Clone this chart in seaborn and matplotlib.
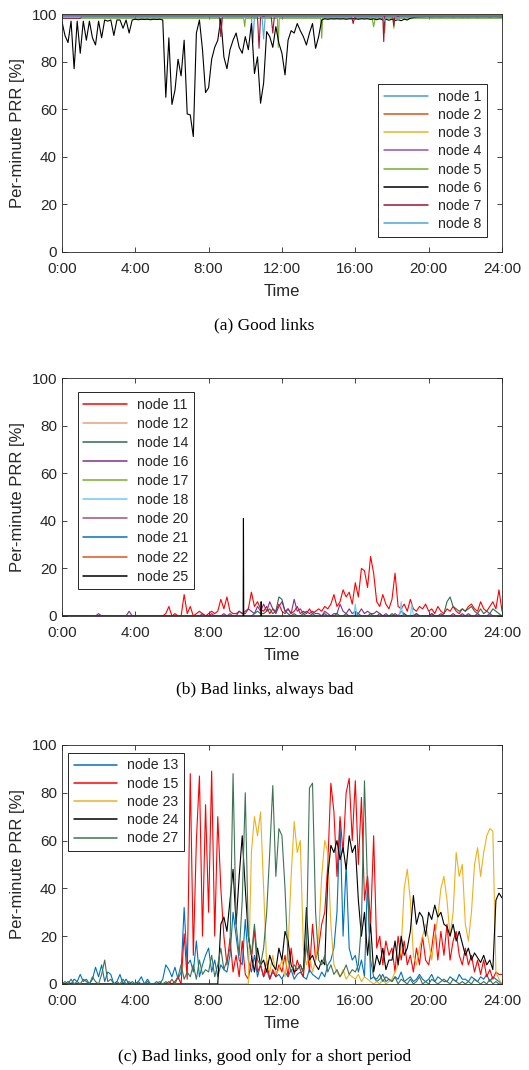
import numpy as np
import pandas as pd
import matplotlib
matplotlib.use("Agg")
import matplotlib.pyplot as plt
from matplotlib.lines import Line2D
import seaborn as sns

# time grid in minutes (10-minute samples)
t10 = list(range(0, 1441, 10))

# ---------------- (a) Good links ----------------
n6 = [97, 91, 88, 97, 77, 97,
      83.5, 97, 89, 97, 90, 87,
      97, 90, 97.5, 97, 97.5, 91,
      97.5, 97.5, 94, 97.5, 92, 97.5,
      97.8, 97.6, 97.8, 97.7, 97.8, 97.6,
      97.8, 97.7, 97.8, 97.5, 65, 90,
      62, 68, 81, 74, 89, 58,
      57.6, 48.5, 92, 97.5, 85, 67,
      69, 81, 86, 89, 98, 82,
      77, 85, 89, 92, 86, 83.5,
      90.5, 85, 96, 75, 82, 62.5,
      71, 92.6, 90.5, 86, 94.7, 87.7,
      83.5, 74.4, 89, 93, 92, 96,
      93, 90.5, 87, 92, 96, 85.6,
      90.5, 97.5, 98, 97.8, 98, 97.9,
      98, 97.9, 98, 97.8, 98, 98,
      98, 97.8, 98, 97.9, 98, 97.7,
      98, 97.6, 98, 97.5, 97.8, 97.4,
      97.8, 97.3, 97.6, 97.2, 97.8, 97.5,
      98.2, 98.5, 98.7, 98.8, 98.8, 98.9,
      98.9, 98.8, 98.9, 98.9, 98.8, 98.9,
      98.9, 98.9, 98.8, 98.9, 98.9, 98.8,
      98.9, 98.8, 98.9, 98.9, 98.8, 98.9,
      98.9, 98.9, 98.8, 98.9, 98.9, 98.8,
      98.9]

t_n1 = [0, 620, 625, 630, 1440]
n1 = [99.1, 99.1, 88, 99.1, 99.1]
t_n2 = [0, 1440]
n2 = [99.6, 99.6]
t_n3 = [0, 1440]
n3 = [99.9, 99.9]
t_n4 = [0, 1440]
n4 = [99.3, 99.3]
t_n5 = [0, 595, 598, 601, 705, 708, 711, 847, 850, 853,
        1015, 1020, 1025, 1053, 1056, 1059, 1083, 1086, 1089, 1440]
n5 = [98.2, 98.2, 94.7, 98.2, 98.2, 86, 98.2, 98.2, 89.8, 98.2,
      98.2, 94.7, 98.2, 98.2, 92, 98.2, 98.2, 94, 98.2, 98.2]
t_n7 = [0, 60, 65, 515, 520, 525, 640, 645, 650, 685, 690, 695,
        948, 953, 958, 1050, 1053, 1056, 1083, 1086, 1089, 1440]
n7 = [98.2, 98.2, 98.8, 98.8, 90.5, 98.8, 98.8, 85.6, 98.8, 98.8, 92, 98.8,
      98.8, 96, 98.8, 98.8, 88.4, 98.8, 98.8, 95, 98.8, 98.8]
t_n8 = [0, 655, 660, 665, 1050, 1055, 1060, 1095, 1100, 1105, 1440]
n8 = [98.8, 98.8, 89.5, 98.8, 98.8, 97, 98.8, 98.8, 97.5, 98.8, 98.8]

# ---------------- (b) Bad links, always bad ----------------
n11 = [0, 0, 0, 0, 0, 0,
       0, 0, 0, 0, 0, 0,
       0, 0, 0, 0, 0, 0,
       0, 0, 0, 0, 0, 0,
       0, 0, 0, 0, 0, 0,
       0, 0, 0, 0, 1, 4,
       0, 1, 0, 0, 9, 1,
       4, 0, 1, 2, 1, 0,
       1, 2, 1, 2, 7, 3,
       8, 2, 1, 1, 2, 1,
       2, 3, 10, 4, 6, 3,
       2, 4, 1, 3, 2, 5,
       2, 1, 3, 1, 2, 4,
       1, 2, 1, 3, 1, 2,
       3, 2, 4, 3, 5, 9,
       4, 6, 11, 8, 10, 5,
       14, 8, 20, 19, 12, 25,
       18, 6, 4, 9, 5, 3,
       7, 18, 4, 3, 5, 2,
       7, 3, 2, 4, 3, 5,
       2, 3, 1, 4, 2, 1,
       3, 2, 4, 2, 1, 3,
       2, 4, 5, 3, 2, 6,
       3, 2, 4, 6, 3, 11,
       2]
n16 = [0, 0, 0, 0, 0, 0,
       0, 0, 0, 0, 0, 0,
       1, 0, 0, 0, 0, 0,
       0, 0, 0, 0, 2, 0,
       0, 0, 0, 0, 0, 0,
       0, 0, 0, 0, 0, 0,
       0, 0, 0, 0, 0, 0,
       0, 0, 0, 0, 1, 0,
       0, 1, 0, 0, 0, 1,
       0, 1, 0, 0, 2, 1,
       1, 3, 2, 1, 4, 2,
       5, 2, 6, 3, 1, 4,
       6, 2, 3, 1, 7, 2,
       3, 1, 2, 1, 2, 1,
       1, 0, 2, 1, 0, 1,
       1, 5, 2, 1, 3, 1,
       2, 1, 3, 1, 2, 1,
       1, 2, 1, 0, 1, 0,
       0, 1, 0, 2, 1, 0,
       0, 0, 1, 0, 0, 0,
       0, 1, 0, 0, 1, 0,
       0, 0, 1, 0, 0, 1,
       0, 1, 0, 0, 1, 0,
       0, 0, 1, 0, 0, 0,
       0]
n14 = [0, 0, 0, 0, 0, 0,
       0, 0, 0, 0, 0, 0,
       0, 0, 0, 0, 0, 0,
       0, 0, 0, 0, 0, 0,
       0, 0, 0, 0, 0, 0,
       0, 0, 0, 0, 0, 0,
       0, 0, 0, 0, 0, 0,
       0, 0, 0, 0, 0, 0,
       0, 0, 0, 0, 0, 0,
       0, 0, 0, 0, 0, 0,
       0, 0, 0, 1, 2, 1,
       1, 2, 3, 1, 2, 8,
       7, 2, 1, 0, 1, 0,
       0, 1, 0, 0, 1, 0,
       0, 0, 1, 0, 0, 0,
       1, 0, 0, 1, 0, 0,
       0, 1, 0, 0, 0, 1,
       0, 0, 1, 0, 0, 0,
       1, 0, 0, 0, 1, 0,
       0, 0, 1, 0, 0, 0,
       0, 1, 0, 0, 0, 1,
       6, 8, 4, 3, 2, 3,
       2, 3, 4, 2, 1, 3,
       1, 2, 1, 3, 2, 1,
       0]
t_n18 = [0, 955, 960, 965, 1105, 1110, 1115, 1140, 1145, 1150, 1440]
n18 = [0, 0, 5, 0, 0, 6, 0, 0, 5, 0, 0]
t_n25 = [0, 593, 594, 595, 651, 652, 653, 1440]
n25 = [0, 0, 41, 0, 0, 6, 0, 0]
t_flat = [0, 1440]
n_flat = [0.2, 0.2]

# ---------------- (c) Bad links, good only for a short period ----------------
n13 = [0, 0, 1, 0, 2, 1,
       4, 1, 2, 0, 2, 7,
       3, 8, 1, 5, 4, 0,
       1, 4, 0, 2, 0, 1,
       0, 1, 3, 0, 2, 0,
       0, 1, 0, 2, 8, 6,
       3, 7, 2, 5, 32, 8,
       10, 5, 18, 3, 8, 12,
       15, 5, 10, 3, 8, 6,
       5, 12, 30, 20, 10, 8,
       27, 10, 5, 12, 3, 8,
       3, 6, 2, 5, 3, 4,
       2, 5, 3, 6, 2, 4,
       5, 3, 2, 6, 4, 3,
       2, 5, 3, 8, 10, 15,
       30, 68, 20, 50, 15, 10,
       12, 5, 10, 3, 45, 2,
       3, 1, 2, 4, 1, 2,
       1, 3, 2, 5, 1, 2,
       3, 1, 2, 4, 2, 1,
       2, 4, 1, 3, 2, 1,
       1, 3, 2, 1, 4, 2,
       2, 1, 3, 2, 1, 3,
       2, 4, 1, 3, 2, 1,
       0]
n15 = [0, 0, 0, 0, 0, 0,
       0, 0, 0, 0, 0, 0,
       0, 0, 0, 0, 0, 0,
       0, 0, 0, 0, 0, 0,
       0, 0, 0, 0, 0, 0,
       0, 0, 0, 0, 0, 1,
       0, 1, 3, 0, 21, 2,
       88, 12, 60, 87, 20, 75,
       30, 89, 20, 70, 40, 20,
       8, 19, 5, 12, 3, 18,
       4, 2, 10, 23, 5, 8,
       3, 10, 2, 6, 3, 8,
       5, 12, 3, 15, 4, 10,
       6, 3, 18, 5, 25, 10,
       15, 25, 30, 50, 84, 72,
       45, 70, 55, 80, 86, 60,
       85, 50, 78, 35, 45, 25,
       62, 15, 20, 8, 18, 12,
       15, 5, 20, 10, 18, 8,
       12, 5, 15, 8, 20, 10,
       8, 15, 25, 10, 22, 12,
       25, 10, 18, 22, 12, 8,
       15, 8, 12, 5, 10, 4,
       10, 3, 6, 2, 5, 4,
       4]
n23 = [0, 0, 0, 0, 0, 0,
       0, 0, 0, 0, 0, 0,
       0, 0, 0, 0, 0, 0,
       0, 0, 0, 0, 0, 0,
       0, 0, 0, 0, 0, 0,
       0, 0, 0, 0, 0, 0,
       0, 0, 0, 0, 0, 0,
       0, 0, 0, 0, 0, 0,
       0, 0, 0, 0, 0, 0,
       0, 0, 0, 0, 0, 0,
       0, 0, 55, 70, 62, 72,
       40, 8, 5, 12, 4, 6,
       10, 3, 15, 45, 68, 55,
       60, 15, 8, 12, 5, 10,
       20, 45, 60, 55, 25, 8,
       5, 3, 6, 2, 4, 3,
       2, 4, 1, 3, 2, 1,
       0, 1, 0, 2, 0, 1,
       2, 5, 8, 15, 40, 48,
       35, 12, 8, 15, 20, 25,
       18, 10, 20, 28, 40, 45,
       35, 20, 30, 55, 45, 50,
       25, 18, 30, 50, 57, 45,
       55, 62, 65, 64, 5, 2,
       0]
n24 = [0, 0, 0, 0, 0, 0,
       0, 0, 0, 0, 0, 0,
       0, 0, 0, 0, 0, 0,
       0, 0, 0, 0, 0, 0,
       0, 0, 0, 0, 0, 0,
       0, 0, 0, 0, 0, 0,
       0, 0, 0, 0, 0, 0,
       0, 0, 0, 0, 0, 0,
       0, 0, 0, 0, 25, 28,
       22, 35, 48, 25, 45, 62,
       40, 20, 12, 5, 15, 8,
       10, 5, 12, 8, 6, 15,
       10, 22, 18, 8, 5, 6,
       8, 5, 32, 10, 12, 8,
       6, 10, 8, 45, 58, 55,
       60, 52, 57, 48, 62, 55,
       58, 35, 20, 30, 12, 25,
       5, 12, 8, 15, 6, 10,
       10, 18, 8, 20, 12, 15,
       22, 37, 25, 30, 28, 20,
       30, 27, 33, 28, 30, 25,
       24, 20, 25, 18, 22, 17,
       12, 15, 10, 13, 11, 9,
       12, 8, 10, 6, 35, 38,
       36]
n27 = [0, 1, 0, 2, 0, 1,
       0, 2, 1, 0, 3, 1,
       0, 4, 10, 1, 2, 0,
       1, 0, 2, 0, 1, 0,
       0, 1, 0, 0, 1, 0,
       0, 0, 1, 0, 1, 0,
       2, 0, 3, 8, 2, 5,
       3, 8, 2, 10, 4, 6,
       5, 12, 3, 8, 15, 6,
       10, 15, 88, 25, 12, 35,
       80, 20, 12, 25, 10, 8,
       15, 30, 55, 83, 45, 65,
       62, 40, 10, 5, 8, 6,
       8, 5, 15, 82, 84, 30,
       10, 8, 12, 5, 8, 4,
       6, 3, 5, 8, 4, 6,
       5, 8, 25, 85, 40, 10,
       3, 2, 4, 1, 3, 2,
       1, 3, 0, 2, 1, 0,
       2, 0, 1, 3, 0, 1,
       0, 2, 1, 0, 1, 2,
       1, 0, 2, 1, 0, 1,
       0, 1, 0, 2, 1, 0,
       1, 0, 2, 0, 1, 0,
       0]

sns.set_style("ticks")
plt.rcParams['font.family'] = ['Liberation Sans', 'DejaVu Sans']

fig = plt.figure(figsize=(5.29, 10.70), dpi=100)

xt = [0, 240, 480, 720, 960, 1200, 1440]
xtl = ["0:00", "4:00", "8:00", "12:00", "16:00", "20:00", "24:00"]
lw = 0.8


def style_axes(ax):
    ax.set_xlim(0, 1440)
    ax.set_ylim(0, 100)
    ax.set_xticks(xt)
    ax.set_xticklabels(xtl)
    ax.set_yticks([0, 20, 40, 60, 80, 100])
    ax.tick_params(direction='in', top=True, right=True, length=3.5,
                   labelsize=11, colors='#262626', width=0.6)
    ax.tick_params(axis='x', pad=7)
    for s in ax.spines.values():
        s.set_color('#262626')
        s.set_linewidth(0.6)
    ax.set_xlabel("Time", fontsize=12, color='#262626', labelpad=6)
    ax.set_ylabel("Per-minute PRR [%]", fontsize=12, color='#262626', labelpad=5)


def draw(ax, series, loc, anchor, spacing):
    handles = []
    for x, y, c, name in series:
        sns.lineplot(x=x, y=y, ax=ax, color=c, lw=lw, legend=False)
        handles.append(Line2D([0], [0], color=c, lw=1.1, label=name))
    style_axes(ax)
    lg = ax.legend(handles=handles, loc=loc, bbox_to_anchor=anchor, borderaxespad=0,
                   fontsize=10.2, handlelength=3.1, labelspacing=spacing,
                   frameon=True, fancybox=False, framealpha=1,
                   edgecolor='#262626', borderpad=0.4, handletextpad=0.7)
    lg.get_frame().set_linewidth(0.7)


# panel (a)
axa = fig.add_axes([0.117, 0.7645, 0.832, 0.2224])
draw(axa, [
    (t_n1, n1, '#4a9ad6', 'node 1'),
    (t_n2, n2, '#D95319', 'node 2'),
    (t_n3, n3, '#EDB120', 'node 3'),
    (t_n4, n4, '#9b4fb0', 'node 4'),
    (t_n5, n5, '#77AC30', 'node 5'),
    (t10, n6, '#000000', 'node 6'),
    (t_n7, n7, '#A2142F', 'node 7'),
    (t_n8, n8, '#4DA6DE', 'node 8'),
], 'lower right', (0.966, 0.063), 0.3)

# panel (b)
axb = fig.add_axes([0.117, 0.4243, 0.832, 0.2224])
draw(axb, [
    (t10, n11, '#FF0000', 'node 11'),
    (t_flat, n_flat, '#E8A07A', 'node 12'),
    (t10, n14, '#2E6B4B', 'node 14'),
    (t10, n16, '#7E2F8E', 'node 16'),
    (t_flat, n_flat, '#77AC30', 'node 17'),
    (t_n18, n18, '#6ECBF0', 'node 18'),
    (t_flat, n_flat, '#A8506E', 'node 20'),
    (t_flat, n_flat, '#0072BD', 'node 21'),
    (t_flat, n_flat, '#E0531A', 'node 22'),
    (t_n25, n25, '#000000', 'node 25'),
], 'upper left', (0.036, 0.941), 0.36)

# panel (c)
axc = fig.add_axes([0.117, 0.0804, 0.832, 0.2234])
draw(axc, [
    (t10, n13, '#0072BD', 'node 13'),
    (t10, n15, '#FF0000', 'node 15'),
    (t10, n23, '#EDB120', 'node 23'),
    (t10, n24, '#000000', 'node 24'),
    (t10, n27, '#3E7352', 'node 27'),
], 'upper left', (0.0136, 0.967), 0.3)

cap = dict(ha='center', va='center', fontsize=12.5, family='Liberation Serif', color='black')
fig.text(0.5, 1 - 325 / 1070, "(a) Good links", **cap)
fig.text(0.5, 1 - 690 / 1070, "(b) Bad links, always bad", **cap)
fig.text(0.5, 1 - 1057 / 1070, "(c) Bad links, good only for a short period", **cap)

fig.savefig("out.png", dpi=100)
